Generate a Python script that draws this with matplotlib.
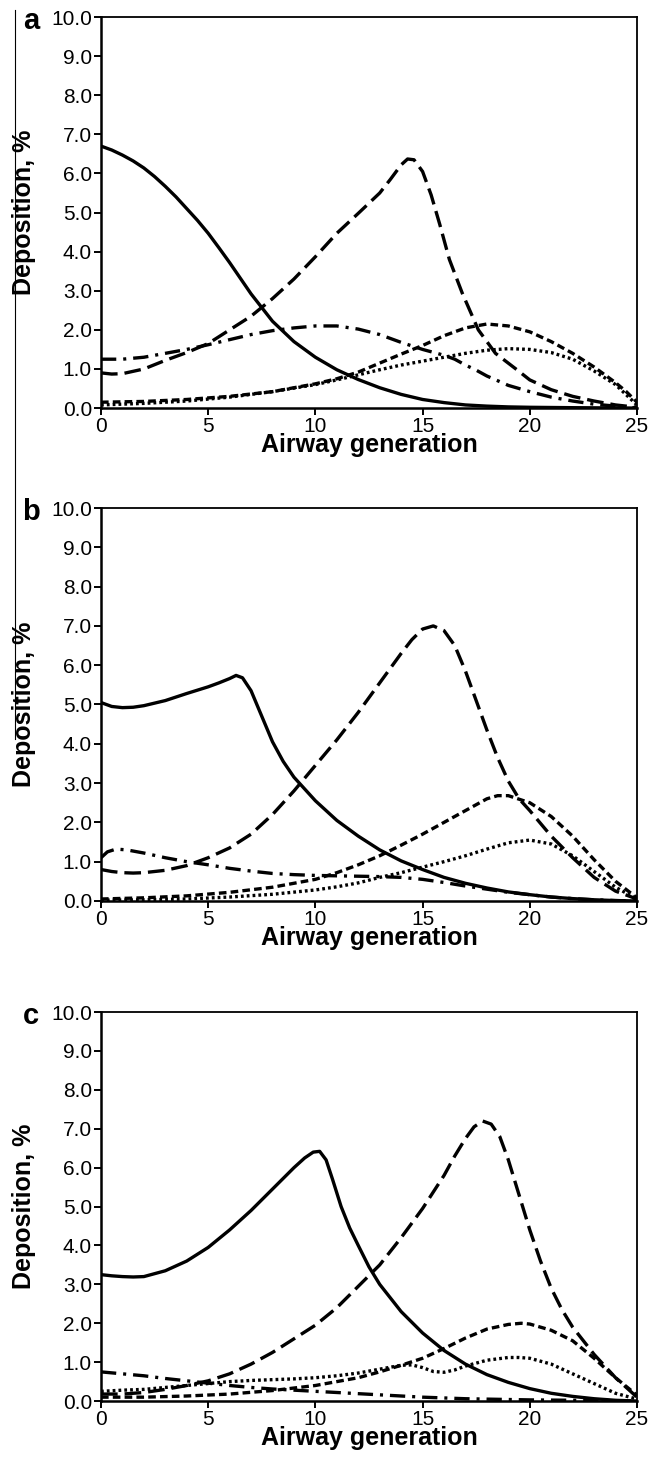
import numpy as np
import matplotlib
matplotlib.use('Agg')
import matplotlib.pyplot as plt
from matplotlib.lines import Line2D

plt.rcParams['font.family'] = ['Liberation Sans', 'DejaVu Sans']
plt.rcParams['lines.scale_dashes'] = False

# ---- panel a ----
solid_a_x = [0, 0.5, 1, 1.5, 2, 2.5, 3, 3.5, 4, 4.5, 5, 5.5, 6, 7, 8, 9, 10, 11, 12, 13, 14, 15, 16, 17, 18, 19, 20, 22, 25]
solid_a_y = [6.7, 6.6, 6.47, 6.32, 6.14, 5.92, 5.67, 5.4, 5.1, 4.8, 4.47, 4.1, 3.72, 2.92, 2.22, 1.7, 1.3, 0.98, 0.73, 0.52, 0.35, 0.22, 0.14, 0.08, 0.05, 0.03, 0.02, 0.01, 0.0]
dash_a_x = [0, 0.5, 1, 2, 3, 4, 5, 6, 7, 8, 9, 10, 11, 12, 13, 13.5, 14, 14.3, 14.6, 15, 15.4, 15.8, 16.25, 16.85, 17.6, 18.4, 19.4, 20, 21, 22, 23, 24, 25]
dash_a_y = [0.9, 0.87, 0.88, 1.0, 1.22, 1.42, 1.65, 2.0, 2.35, 2.8, 3.3, 3.87, 4.47, 4.98, 5.5, 5.85, 6.22, 6.37, 6.35, 6.05, 5.45, 4.7, 3.8, 2.94, 2.0, 1.4, 0.98, 0.72, 0.47, 0.3, 0.18, 0.08, 0.02]
dashdot_a_x = [0, 1, 2, 3, 4, 5, 6, 7, 8, 9, 10, 11, 12, 13, 14, 15, 16, 16.5, 17, 17.5, 18, 19, 20, 21, 22, 23, 24, 25]
dashdot_a_y = [1.25, 1.25, 1.3, 1.4, 1.5, 1.62, 1.75, 1.88, 1.98, 2.05, 2.1, 2.1, 2.02, 1.88, 1.68, 1.5, 1.35, 1.25, 1.1, 0.97, 0.82, 0.58, 0.42, 0.28, 0.18, 0.1, 0.05, 0.0]
short_a_x = [0, 2, 4, 6, 8, 9, 10, 11, 12, 13, 14, 15, 16, 17, 18, 19, 20, 21, 22, 23, 24, 24.5, 25]
short_a_y = [0.15, 0.17, 0.22, 0.3, 0.42, 0.52, 0.62, 0.75, 0.92, 1.15, 1.38, 1.6, 1.85, 2.05, 2.15, 2.1, 1.95, 1.7, 1.4, 1.05, 0.65, 0.42, 0.15]
dot_a_x = [0, 2, 4, 6, 8, 10, 11, 12, 13, 14, 15, 16, 17, 18, 19, 20, 21, 22, 23, 24, 25]
dot_a_y = [0.08, 0.12, 0.18, 0.28, 0.42, 0.6, 0.72, 0.85, 0.98, 1.1, 1.2, 1.3, 1.4, 1.48, 1.52, 1.5, 1.42, 1.25, 0.95, 0.6, 0.08]

# ---- panel b ----
solid_b_x = [0, 0.5, 1, 1.5, 2, 3, 4, 5, 5.5, 6, 6.3, 6.6, 7, 7.5, 8, 8.5, 9, 9.5, 10, 11, 12, 13, 14, 15, 16, 17, 18, 19, 20, 21, 22, 23, 24, 25]
solid_b_y = [5.05, 4.95, 4.92, 4.93, 4.97, 5.1, 5.28, 5.45, 5.55, 5.66, 5.74, 5.68, 5.35, 4.7, 4.05, 3.55, 3.15, 2.85, 2.55, 2.05, 1.65, 1.3, 1.02, 0.8, 0.6, 0.45, 0.33, 0.23, 0.16, 0.1, 0.06, 0.03, 0.01, 0.0]
dash_b_x = [0, 0.5, 1, 1.5, 2, 3, 4, 5, 6, 7, 8, 9, 10, 11, 12, 13, 14, 14.5, 15, 15.5, 16, 16.5, 17, 17.5, 18, 18.5, 19, 19.5, 20, 21, 22, 23, 24, 25]
dash_b_y = [0.8, 0.75, 0.72, 0.71, 0.72, 0.78, 0.9, 1.1, 1.35, 1.7, 2.2, 2.8, 3.45, 4.1, 4.8, 5.55, 6.3, 6.65, 6.92, 7.0, 6.88, 6.5, 5.85, 5.1, 4.35, 3.65, 3.05, 2.6, 2.3, 1.65, 1.1, 0.6, 0.25, 0.05]
dashdot_b_x = [0, 0.3, 0.7, 1.2, 2, 3, 4, 5, 6, 7, 8, 9, 10, 11, 12, 13, 14, 15, 16, 17, 18, 19, 20, 21, 22, 23, 24, 25]
dashdot_b_y = [1.1, 1.25, 1.32, 1.3, 1.22, 1.1, 1.0, 0.92, 0.83, 0.76, 0.7, 0.67, 0.65, 0.64, 0.63, 0.62, 0.6, 0.55, 0.47, 0.38, 0.3, 0.22, 0.16, 0.1, 0.06, 0.03, 0.01, 0.0]
short_b_x = [0, 2, 4, 6, 8, 10, 11, 12, 13, 14, 15, 16, 17, 18, 18.5, 19, 20, 21, 22, 23, 24, 25]
short_b_y = [0.05, 0.08, 0.13, 0.22, 0.35, 0.55, 0.72, 0.92, 1.15, 1.42, 1.7, 2.0, 2.3, 2.6, 2.68, 2.68, 2.5, 2.15, 1.65, 1.05, 0.5, 0.08]
dot_b_x = [0, 2, 4, 6, 8, 10, 11, 12, 13, 14, 15, 16, 17, 18, 19, 20, 21, 22, 23, 24, 25]
dot_b_y = [0.02, 0.03, 0.05, 0.1, 0.17, 0.28, 0.36, 0.46, 0.6, 0.72, 0.86, 1.0, 1.15, 1.32, 1.48, 1.55, 1.45, 1.15, 0.75, 0.35, 0.05]

# ---- panel c ----
solid_c_x = [0, 0.5, 1, 1.5, 2, 3, 4, 5, 6, 7, 8, 9, 9.5, 9.9, 10.2, 10.5, 10.8, 11.2, 11.6, 12, 12.5, 13, 14, 15, 16, 17, 18, 19, 20, 21, 22, 23, 24, 25]
solid_c_y = [3.25, 3.22, 3.2, 3.19, 3.2, 3.35, 3.6, 3.95, 4.4, 4.9, 5.45, 6.0, 6.25, 6.4, 6.42, 6.2, 5.7, 5.0, 4.45, 4.0, 3.45, 3.0, 2.3, 1.75, 1.3, 0.95, 0.68, 0.48, 0.32, 0.2, 0.12, 0.06, 0.02, 0.0]
dash_c_x = [0, 1, 2, 3, 4, 5, 6, 7, 8, 9, 10, 11, 12, 13, 14, 15, 16, 16.5, 17, 17.4, 17.8, 18.2, 18.6, 19, 19.5, 20, 20.5, 21, 21.5, 22, 23, 24, 25]
dash_c_y = [0.18, 0.18, 0.22, 0.3, 0.4, 0.52, 0.7, 0.95, 1.25, 1.6, 1.95, 2.4, 2.95, 3.5, 4.2, 4.95, 5.8, 6.3, 6.75, 7.05, 7.2, 7.12, 6.8, 6.2, 5.3, 4.4, 3.6, 2.9, 2.35, 1.9, 1.2, 0.6, 0.1]
dashdot_c_x = [0, 1, 2, 3, 4, 5, 6, 7, 8, 9, 10, 11, 12, 13, 14, 15, 16, 17, 18, 19, 20, 22, 25]
dashdot_c_y = [0.75, 0.7, 0.65, 0.58, 0.52, 0.46, 0.4, 0.35, 0.31, 0.28, 0.25, 0.22, 0.19, 0.16, 0.13, 0.1, 0.08, 0.06, 0.05, 0.04, 0.03, 0.02, 0.0]
short_c_x = [0, 2, 4, 6, 8, 10, 12, 13, 14, 15, 16, 17, 18, 19, 19.6, 20, 21, 22, 23, 24, 25]
short_c_y = [0.1, 0.1, 0.13, 0.18, 0.27, 0.4, 0.6, 0.75, 0.92, 1.1, 1.35, 1.62, 1.85, 1.97, 2.0, 1.98, 1.82, 1.55, 1.1, 0.6, 0.15]
dot_c_x = [0, 1, 2, 3, 4, 5, 6, 7, 8, 9, 10, 11, 12, 13, 14, 14.5, 15, 15.5, 16, 16.5, 17, 18, 19, 19.5, 20, 21, 22, 23, 24, 25]
dot_c_y = [0.25, 0.28, 0.3, 0.35, 0.4, 0.45, 0.5, 0.53, 0.55, 0.57, 0.6, 0.65, 0.72, 0.82, 0.92, 0.93, 0.86, 0.76, 0.74, 0.8, 0.9, 1.05, 1.12, 1.12, 1.1, 0.95, 0.7, 0.45, 0.2, 0.05]

panel_letters = ['a', 'b', 'c']
x_ticks = [0, 5, 10, 15, 20, 25]
y_ticks = [0, 1, 2, 3, 4, 5, 6, 7, 8, 9, 10]

panels = [
    [(solid_a_x, solid_a_y), (dash_a_x, dash_a_y), (dashdot_a_x, dashdot_a_y), (short_a_x, short_a_y), (dot_a_x, dot_a_y)],
    [(solid_b_x, solid_b_y), (dash_b_x, dash_b_y), (dashdot_b_x, dashdot_b_y), (short_b_x, short_b_y), (dot_b_x, dot_b_y)],
    [(solid_c_x, solid_c_y), (dash_c_x, dash_c_y), (dashdot_c_x, dashdot_c_y), (short_c_x, short_c_y), (dot_c_x, dot_c_y)],
]
styles = ['-', (0, (12, 5)), (0, (11, 5, 2.2, 5)), (0, (5.5, 3)), (0, (2, 2.2))]

fig = plt.figure(figsize=(6.64, 14.7), dpi=100)
# axes boxes in figure fraction (left, bottom, width, height)
boxes = [[0.1521, 0.7224, 0.8072, 0.2660],
         [0.1521, 0.3871, 0.8072, 0.2673],
         [0.1521, 0.0469, 0.8072, 0.2646]]

for k in range(3):
    ax = fig.add_axes(boxes[k])
    for (xs, ys), ls in zip(panels[k], styles):
        ax.plot(xs, ys, color='black', lw=2.4, linestyle=ls, solid_capstyle='butt', dash_capstyle='butt')
    ax.set_xlim(0, 25)
    ax.set_ylim(0, 10)
    ax.set_xticks(x_ticks)
    ax.set_yticks(y_ticks)
    ax.set_yticklabels(['%.1f' % v for v in y_ticks])
    ax.tick_params(direction='out', length=5, width=1.4, labelsize=15, pad=1.5, colors='black')
    for s in ['left', 'bottom']:
        ax.spines[s].set_linewidth(1.8)
    for s in ['top', 'right']:
        ax.spines[s].set_linewidth(1.3)
    ax.set_xlabel('Airway generation', fontsize=18, fontweight='bold', labelpad=-2)
    ax.set_ylabel('Deposition, %', fontsize=18, fontweight='bold')
    ax.yaxis.set_label_coords(-0.122, 0.5)
    ax.text(-0.13, 0.97, panel_letters[k], transform=ax.transAxes, fontsize=21,
            fontweight='bold', ha='center', va='baseline')

# thin vertical rule at the left edge of the page
fig.add_artist(Line2D([0.0226, 0.0226], [0.4973, 0.9932], transform=fig.transFigure,
                      color='black', lw=0.8))

plt.savefig('out.png', dpi=100)
